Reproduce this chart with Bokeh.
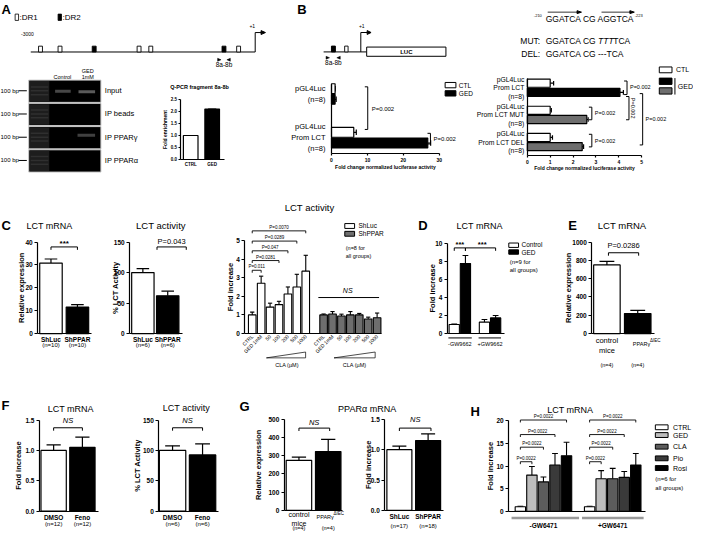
import math
from bokeh.plotting import figure
from bokeh.layouts import row, column
from bokeh.models import Range1d, FixedTicker, LinearAxis, Label, PrintfTickFormatter
from bokeh.core.properties import value
from bokeh.embed import file_html
from bokeh.resources import INLINE

FONT = "Liberation Sans"

# ------------------------------------------------------------------ data
qpcr_groups = ["CTRL", "GED"]
qpcr_values = [1.0, 2.1]
qpcr_ticks = [0.0, 0.5, 1.0, 1.5, 2.0, 2.5]

b1_groups = ["pGL4Luc\n(n=8)", "pGL4Luc\nProm LCT\n(n=8)"]
b1_ctl = [1.0, 6.2]
b1_ctl_err = [1.05, 6.9]
b1_ged = [1.0, 26.8]
b1_ged_err = [1.3, 27.6]
b1_ticks = [0, 10, 20, 30]

b2_groups = ["pGL4Luc\nProm LCT\n(n=8)", "pGL4Luc\nProm LCT MUT\n(n=8)", "pGL4Luc\nProm LCT DEL\n(n=8)"]
b2_ctl = [1.0, 1.0, 1.0]
b2_ctl_err = [1.15, 1.05, 1.1]
b2_ged = [4.05, 2.6, 2.4]
b2_ged_err = [4.2, 2.66, 2.46]
b2_ticks = [0, 1, 2, 3, 4, 5]

c1_groups = ["ShLuc", "ShPPAR"]
c1_n = ["(n=10)", "(n=10)"]
c1_values = [30.8, 11.6]
c1_err = [32.6, 12.6]
c1_ticks = [0, 10, 20, 30, 40]

c2_groups = ["ShLuc", "ShPPAR"]
c2_n = ["(n=6)", "(n=6)"]
c2_values = [100, 62]
c2_err = [106.5, 69.5]
c2_ticks = [0, 50, 100, 150]

c3_doses = ["CTRL", "GED 1mM", "50", "100", "200", "500", "1000"]
c3_shluc = [1.0, 2.7, 1.42, 1.55, 2.12, 2.5, 3.35]
c3_shluc_err = [1.15, 3.08, 1.63, 1.73, 2.5, 3.18, 4.2]
c3_shppar = [1.0, 1.05, 0.94, 1.0, 1.0, 0.78, 0.85]
c3_shppar_err = [1.05, 1.18, 1.04, 1.18, 1.08, 0.88, 1.1]
c3_pairs = [1, 3, 4, 5, 6]
c3_pvals = ["P=0.011", "P=0.0281", "P=0.047", "P=0.0289", "P=0.0070"]
c3_ticks = [0, 1, 2, 3, 4, 5]

d_groups = ["-GW9662", "+GW9662"]
d_control = [1.0, 1.26]
d_control_err = [1.05, 1.55]
d_ged = [7.73, 1.73]
d_ged_err = [8.63, 2.0]
d_ticks = [0, 2, 4, 6, 8, 10]

e_groups = ["control\nmice", "PPARγΔIEC"]
e_n = ["(n=4)", "(n=4)"]
e_values = [750, 218]
e_err = [789, 254]
e_ticks = [0, 200, 400, 600, 800, 1000]

f1_groups = ["DMSO", "Feno"]
f1_n = ["(n=12)", "(n=12)"]
f1_values = [1.0, 1.05]
f1_err = [1.09, 1.22]
f1_ticks = [0.0, 0.5, 1.0, 1.5]

f2_groups = ["DMSO", "Feno"]
f2_n = ["(n=6)", "(n=6)"]
f2_values = [100, 92.6]
f2_err = [107.5, 110.6]
f2_ticks = [0, 50, 100, 150]

g1_groups = ["control\nmice", "PPARγΔIEC"]
g1_n = ["(n=4)", "(n=4)"]
g1_values = [275, 323]
g1_err = [293, 390]
g1_ticks = [0, 100, 200, 300, 400, 500]

g2_groups = ["ShLuc", "ShPPAR"]
g2_n = ["(n=17)", "(n=18)"]
g2_values = [1.0, 1.15]
g2_err = [1.06, 1.26]
g2_ticks = [0.0, 0.5, 1.0, 1.5]

h_treat = ["CTRL", "GED", "CLA", "Pio", "Rosi"]
h_groups = ["-GW6471", "+GW6471"]
h_minus = [1.0, 8.0, 6.5, 10.25, 12.3]
h_minus_err = [1.1, 9.9, 7.6, 12.8, 15.3]
h_plus = [1.0, 7.2, 7.2, 7.5, 10.25]
h_plus_err = [1.1, 9.0, 9.5, 8.8, 12.8]
h_ticks = [0, 5, 10, 15, 20]

GRAY = "#6e6e6e"
H_COLORS = ["white", "#bdbdbd", "#5c5c5c", "#3a3a3a", "black"]

# ------------------------------------------------------------------ helpers
SX = 693 / 709
SY = 534 / 550


def PX(v):
    return int(round(v * SX))


def PY(v):
    return int(round(v * SY))


def base_fig(w, h, xr, yr, axes=True):
    kw = {}
    if not axes:
        kw = dict(x_axis_location=None, y_axis_location=None)
    p = figure(width=w, height=h, x_range=xr, y_range=yr, output_backend="svg",
               toolbar_location=None, min_border_left=0, min_border_bottom=0,
               min_border_top=0, min_border_right=0, **kw)
    p.outline_line_color = None
    p.grid.visible = False
    p.background_fill_color = "white"
    p.border_fill_color = "white"
    return p


def style_axis(ax, size, bold=True):
    ax.axis_line_color = "black"
    ax.axis_line_width = 1.2
    ax.major_tick_line_color = "black"
    ax.major_tick_line_width = 1.2
    ax.major_tick_out = 3
    ax.major_tick_in = 0
    ax.minor_tick_line_color = None
    ax.major_label_text_font = FONT
    ax.major_label_text_font_size = size
    ax.major_label_text_font_style = "bold" if bold else "normal"
    ax.major_label_text_color = "black"
    ax.major_label_standoff = 2


def ctext(p, x, y, t, size, style="normal", align="left", baseline="middle", angle=0.0):
    p.text(x=[x], y=[y], text=[t], text_font=value(FONT), text_font_size=value(size),
           text_font_style=value(style), text_align=value(align),
           text_baseline=value(baseline), angle=angle, text_color="black")


class Canvas:
    def __init__(self, box):
        x0, y0, x1, y1 = box
        self.p = base_fig(PX(x1) - PX(x0), PY(y1) - PY(y0), Range1d(x0, x1),
                          Range1d(y1, y0), axes=False)


class Chart:
    """A chart whose frame fills its box; axes sit at fixed data locations."""

    def __init__(self, box, fl, fb, xcal, ycal):
        x0, y0, x1, y1 = box
        self.xc, self.yc = xcal, ycal
        self.kx = (xcal[3] - xcal[1]) / (xcal[2] - xcal[0])
        self.ky = (ycal[3] - ycal[1]) / (ycal[2] - ycal[0])
        self.p = base_fig(PX(x1) - PX(x0), PY(y1) - PY(y0),
                          Range1d(self.dx(x0), self.dx(x1)),
                          Range1d(self.dy(y1), self.dy(y0)))
        self.p.xaxis[0].fixed_location = self.dy(fb)
        self.p.yaxis[0].fixed_location = self.dx(fl)

    def dx(self, rx):
        return self.xc[0] + (rx - self.xc[1]) / self.kx

    def dy(self, ry):
        return self.yc[0] + (ry - self.yc[1]) / self.ky

    def ry(self, d):
        return self.yc[1] + (d - self.yc[0]) * self.ky

    def label(self, rx, ry, text, size, style="normal", align="center", angle=0.0, xdata=None):
        x = xdata if xdata is not None else self.dx(rx)
        self.p.add_layout(Label(x=x, y=self.dy(ry), text=text, text_font=FONT,
                                text_font_size=size, text_font_style=style,
                                text_align=align, text_baseline="middle", angle=angle,
                                text_color="black"))

    def ylab(self, rx, ticks, text, size="7.5px"):
        ry = (self.ry(ticks[0]) + self.ry(ticks[-1])) / 2
        self.label(rx, ry, text, size, "bold", angle=math.pi / 2)

    def bracket(self, xd0, xd1, ry, tick=3, lw=1.0):
        y, yt = self.dy(ry), self.dy(ry + tick)
        self.p.line([xd0, xd0, xd1, xd1], [yt, y, y, yt], line_color="black", line_width=lw)

    def vbracket(self, rx, ry0, ry1, tick=3, lw=1.0):
        xs = [self.dx(rx - tick), self.dx(rx), self.dx(rx), self.dx(rx - tick)]
        ys = [self.dy(ry0), self.dy(ry0), self.dy(ry1), self.dy(ry1)]
        self.p.line(xs, ys, line_color="black", line_width=lw)

    def pline(self, pts, color="black", lw=1.0):
        self.p.line([self.dx(a) for a, _ in pts], [self.dy(b) for _, b in pts],
                    line_color=color, line_width=lw)

    def box(self, l, t, r, b, fill):
        self.p.quad(left=[self.dx(l)], right=[self.dx(r)], top=[self.dy(t)],
                    bottom=[self.dy(b)], fill_color=fill, line_color="black", line_width=1)

    def yaxis(self, ticks, size="6.5px", fmt=None):
        ax = self.p.yaxis[0]
        style_axis(ax, size)
        ax.ticker = FixedTicker(ticks=ticks)
        ax.bounds = (ticks[0], ticks[-1])
        if fmt:
            ax.formatter = PrintfTickFormatter(format=fmt)
        return ax

    def xcats(self, pos, labels, bounds, size="6.5px", bold=True, standoff=2, orient=None):
        ax = self.p.xaxis[0]
        style_axis(ax, size, bold)
        ax.ticker = FixedTicker(ticks=pos)
        ax.major_label_overrides = {k: v for k, v in zip(pos, labels)}
        ax.major_tick_out = 0
        ax.major_label_standoff = standoff
        ax.bounds = bounds
        if orient is not None:
            ax.major_label_orientation = orient
        return ax

    def xsecond(self, pos, labels, ry_top, size="6px"):
        ax = LinearAxis(ticker=FixedTicker(ticks=pos),
                        major_label_overrides={k: v for k, v in zip(pos, labels)},
                        fixed_location=self.dy(ry_top))
        style_axis(ax, size, bold=False)
        ax.axis_line_color = None
        ax.major_tick_line_color = None
        ax.major_tick_out = 0
        ax.major_label_standoff = 0
        self.p.add_layout(ax, "below")
        return ax


def vbars(ch, xs, vals, errs, fills, width, lw=1.2):
    p = ch.p
    c = width * 0.28
    p.segment(x0=xs, y0=vals, x1=xs, y1=errs, line_color="black", line_width=lw)
    p.segment(x0=[x - c for x in xs], y0=errs, x1=[x + c for x in xs], y1=errs,
              line_color="black", line_width=lw)
    p.vbar(x=xs, top=vals, bottom=0, width=width, fill_color=fills, line_color="black",
           line_width=lw)


def hbars(ch, ys, vals, errs, fill, height, lw=1.2):
    p = ch.p
    c = height * 0.28
    p.segment(x0=vals, y0=ys, x1=errs, y1=ys, line_color="black", line_width=lw)
    p.segment(x0=errs, y0=[y - c for y in ys], x1=errs, y1=[y + c for y in ys],
              line_color="black", line_width=lw)
    p.hbar(y=ys, right=vals, left=0, height=height, fill_color=fill, line_color="black",
           line_width=lw)


# ------------------------------------------------------------------ row 1: A
ca = Canvas((0, 0, 290, 70))
p = ca.p
ctext(p, 1, 9, "A", "13px", "bold")
p.quad(left=[15], right=[18.5], top=[14], bottom=[20.5], fill_color="white",
       line_color="black", line_width=0.8)
ctext(p, 19.5, 17.5, ":DR1", "8px")
p.quad(left=[59], right=[62.5], top=[14], bottom=[20.5], fill_color="black",
       line_color="black", line_width=0.8)
ctext(p, 63.5, 17.5, ":DR2", "8px")
ctext(p, 21, 34, "-3000", "5px")
p.line([31, 261, 261, 267.5], [53, 53, 33, 33], line_color="black", line_width=1)
p.patches([[267, 271.5, 267]], [[31, 33, 35]], fill_color="black", line_color="black")
ctext(p, 258, 26.5, "+1", "5px", align="center")
dr1 = [39, 59, 140, 152, 242]
dr2 = [94, 227]
p.quad(left=dr1, right=[x + 4 for x in dr1], top=[47] * 5, bottom=[53] * 5,
       fill_color="white", line_color="black", line_width=0.9)
p.quad(left=dr2, right=[x + 4 for x in dr2], top=[47] * 2, bottom=[53] * 2,
       fill_color="black", line_color="black", line_width=0.9)
p.patches([[222.5, 226, 222.5], [235.5, 232, 235.5]], [[59.5, 61, 62.5], [59.5, 61, 62.5]],
          fill_color="black", line_color="black", line_width=0.5)
ctext(p, 229, 65.5, "8a-8b", "6.5px", align="center")

cg = Canvas((0, 70, 160, 195))
p = cg.p
gel_rows = ["Input", "IP beads", "IP PPARγ", "IP PPARα"]
gel_tops = [82, 106, 130, 154]
p.quad(left=[29] * 4, right=[103] * 4, top=gel_tops, bottom=[t + 23 for t in gel_tops],
       fill_color="black", line_color="#c8c8c8", line_width=1)
p.quad(left=[30] * 4, right=[50] * 4, top=[t + 1 for t in gel_tops],
       bottom=[t + 22 for t in gel_tops], fill_color="#1d1d1d", line_color=None)
for t in gel_tops:
    p.segment(x0=[31, 31, 31], y0=[t + 7, t + 11, t + 15], x1=[49, 49, 49],
              y1=[t + 7, t + 11, t + 15], line_color="#2f2f2f", line_width=1.5)
    ctext(p, 0, t + 11, "100 bp", "6px")
    p.line([18.5, 27], [t + 11, t + 11], line_color="black", line_width=1)
for name, t in zip(gel_rows, gel_tops):
    ctext(p, 107, t + 11, name, "7.5px")
p.quad(left=[56, 80, 79], right=[72, 97, 97], top=[92, 92.5, 137.5], bottom=[95, 95.5, 140.5],
       fill_color=["#474747", "#5a5a5a", "#404040"], line_color=None)
ctext(p, 63.5, 79, "Control", "5.5px", align="center")
ctext(p, 89.5, 73, "GED", "5.5px", align="center")
ctext(p, 89.5, 79, "1mM", "5.5px", align="center")

q = Chart((160, 70, 290, 195), 185, 164, (0, 195, 1, 217), (0, 164, 2.5, 102))
vbars(q, [0, 1], qpcr_values, qpcr_values, ["white", "black"], 0.68)
q.yaxis(qpcr_ticks, size="4.5px", fmt="%.1f")
q.p.yaxis[0].major_tick_out = 2
q.ylab(169, qpcr_ticks, "Fold enrichment", size="5px")
q.xcats([0, 1], qpcr_groups, (q.dx(185), q.dx(230)), size="4.5px", standoff=3)
q.label(204, 89, "Q-PCR fragment 8a-8b", "5.5px", "bold")

# ------------------------------------------------------------------ row 1: B
cb = Canvas((290, 0, 709, 67))
p = cb.p
ctext(p, 304, 9, "B", "13px", "bold")
p.line([331, 375], [53, 53], line_color="black", line_width=1)
p.quad(left=[339], right=[343], top=[47], bottom=[53], fill_color="black", line_color="black")
p.quad(left=[352.5], right=[356], top=[47], bottom=[53], fill_color="white",
       line_color="black", line_width=0.9)
p.line([369, 369, 376], [53, 33, 33], line_color="black", line_width=1)
p.patches([[375.5, 379.5, 375.5]], [[31, 33, 35]], fill_color="black", line_color="black")
ctext(p, 370, 26.5, "+1", "5px", align="center")
p.quad(left=[375], right=[456], top=[48], bottom=[57.5], fill_color="white",
       line_color="black", line_width=1)
ctext(p, 415.5, 53, "LUC", "6px", "bold", align="center")
p.patches([[333.5, 337, 333.5], [348, 344.5, 348]], [[57.5, 59, 60.5], [57.5, 59, 60.5]],
          fill_color="black", line_color="black", line_width=0.5)
ctext(p, 341, 63.5, "8a-8b", "6.5px", align="center")
p.line([560, 591], [12, 12], line_color="black", line_width=0.8)
p.patches([[590, 594.5, 590]], [[10.5, 12, 13.5]], fill_color="black", line_color="black")
p.line([615, 645], [12, 12], line_color="black", line_width=0.8)
p.patches([[644, 648.5, 644]], [[10.5, 12, 13.5]], fill_color="black", line_color="black")
ctext(p, 554, 15, "-210", "4px", align="right")
ctext(p, 558, 19, "GGATCA CG AGGTCA", "8.5px")
ctext(p, 649, 15, "-223", "4px")
ctext(p, 532, 42, "MUT:", "8.5px")
ctext(p, 558, 42, "GGATCA CG", "8.5px")
ctext(p, 611.5, 42, "TTT", "8.5px", "italic")
ctext(p, 627, 42, "TCA", "8.5px")
ctext(p, 533, 55, "DEL:", "8.5px")
ctext(p, 558, 55, "GGATCA CG ---TCA", "8.5px")

b1 = Chart((290, 67, 486, 195), 339, 158, (0, 339, 30, 449), (0, 158, 1, 114))
b1_pos = [1.4, 0.375]
hbars(b1, [g + 0.125 for g in b1_pos], b1_ctl, b1_ctl_err, "white", 0.23)
hbars(b1, [g - 0.125 for g in b1_pos], b1_ged, b1_ged_err, "black", 0.23)
ax = b1.p.xaxis[0]
style_axis(ax, "5px")
ax.ticker = FixedTicker(ticks=b1_ticks)
ax.bounds = (0, 30)
ax.major_tick_out = 2
ay = b1.p.yaxis[0]
style_axis(ay, "7.5px", bold=False)
ay.ticker = FixedTicker(ticks=b1_pos)
ay.major_label_overrides = {k: v for k, v in zip(b1_pos, b1_groups)}
ay.major_tick_out = 0
ay.major_label_standoff = 6
ay.bounds = (0, b1.dy(87))
b1.label(394, 172, "Fold change normalized luciferase activity", "5px", "bold")
b1.vbracket(376, 89, 133)
b1.label(380, 112, "P=0.002", "6px", align="left")
b1.vbracket(440, 137, 148)
b1.label(443, 142.5, "P=0.002", "6px", align="left")
b1.box(455, 84.5, 466, 90, "white")
b1.box(455, 93, 466, 98.5, "black")
b1.label(469, 87.5, "CTL", "6.5px", align="left")
b1.label(469, 96, "GED", "6.5px", align="left")

b2 = Chart((486, 67, 709, 195), 539, 160, (0, 539, 5, 656), (0, 160, 1, 132))
b2_pos = [2.5, 1.5, 0.5]
hbars(b2, [g + 0.17 for g in b2_pos], b2_ctl, b2_ctl_err, "white", 0.3)
hbars(b2, [g - 0.17 for g in b2_pos], b2_ged, b2_ged_err, ["black", GRAY, GRAY], 0.3)
ax = b2.p.xaxis[0]
style_axis(ax, "5px")
ax.ticker = FixedTicker(ticks=b2_ticks)
ax.bounds = (0, 5)
ax.major_tick_out = 2
ay = b2.p.yaxis[0]
style_axis(ay, "6.8px", bold=False)
ay.ticker = FixedTicker(ticks=b2_pos)
ay.major_label_overrides = {k: v for k, v in zip(b2_pos, b2_groups)}
ay.major_tick_out = 0
ay.major_label_standoff = 3
ay.bounds = (0, b2.dy(80))
b2.label(597.5, 173, "Fold change normalized luciferase activity", "5px", "bold")
b2.vbracket(641, 83, 97)
b2.label(644, 89, "P=0.002", "5.5px", align="left")
b2.vbracket(643, 99, 123)
b2.label(647, 111, "P=0.002", "5.5px", angle=-math.pi / 2)
b2.vbracket(605, 110, 123)
b2.label(608, 116.5, "P=0.002", "5.5px", align="left")
b2.vbracket(605, 138, 151)
b2.label(608, 144.5, "P=0.002", "5.5px", align="left")
b2.vbracket(657, 96, 149)
b2.label(660, 122, "P=0.002", "5.5px", align="left")
b2.box(674, 68.5, 687, 74.5, "white")
b2.box(674, 80, 687, 86.5, "black")
b2.box(674, 90, 687, 96.5, GRAY)
b2.pline([(690, 80), (690, 97)], lw=1)
b2.label(691, 71.5, "CTL", "7px", align="left")
b2.label(693, 88.5, "GED", "7px", align="left")

# ------------------------------------------------------------------ row 2
c1 = Chart((0, 195, 100, 382), 38, 343, (0, 51.5, 1, 78.5), (0, 343, 40, 249))
vbars(c1, [0, 1], c1_values, c1_err, ["white", "black"], 0.85)
c1.yaxis(c1_ticks)
c1.ylab(21.5, c1_ticks, "Relative expression")
c1.xcats([0, 1], c1_groups, (c1.dx(38), c1.dx(93)))
c1.xsecond([0, 1], c1_n, 352)
c1.bracket(0, 1, 254)
c1.label(0, 250.5, "***", "8px", "bold", xdata=0.5)
c1.label(50, 232, "LCT mRNA", "9px")
c1.label(1, 232.5, "C", "13px", "bold", align="left")

c2 = Chart((100, 195, 220, 382), 132, 343, (0, 145.5, 1, 171), (0, 343, 150, 249))
vbars(c2, [0, 1], c2_values, c2_err, ["white", "black"], 0.9)
c2.yaxis(c2_ticks)
c2.ylab(117.5, c2_ticks, "% LCT Activity")
c2.xcats([0, 1], c2_groups, (c2.dx(132), c2.dx(186)))
c2.xsecond([0, 1], c2_n, 352)
c2.pline([(160, 257), (160, 254), (190, 254), (190, 257)])
c2.label(175, 248, "P=0.043", "7.5px")
c2.label(164, 232, "LCT activity", "9.5px")

c3 = Chart((220, 195, 415, 382), 250, 343, (0, 257.5, 14, 385), (0, 343, 5, 247.3))
c3_x1 = list(range(7))
c3_x2 = [8 + i for i in range(7)]
vbars(c3, c3_x1, c3_shluc, c3_shluc_err, "white", 0.85, lw=1.1)
vbars(c3, c3_x2, c3_shppar, c3_shppar_err, GRAY, 0.85, lw=1.1)
c3.yaxis(c3_ticks)
c3.ylab(235, c3_ticks, "Fold increase")
c3.xcats(c3_x1 + c3_x2, c3_doses + c3_doses, (c3.dx(250), c3.dx(389)), size="5px",
         bold=False, standoff=2, orient=math.pi / 4)
for k, ptxt, ry in zip(c3_pairs, c3_pvals, [278, 268, 258, 248, 237.5]):
    c3.bracket(0, k, ry, tick=2.5, lw=0.9)
    c3.label(0, ry - 3.5, ptxt, "4.5px", xdata=k / 2)
c3.pline([(325, 306), (387, 306)])
c3.label(355, 299, "NS", "7px", "italic")
c3.box(352, 230, 362, 235, "white")
c3.box(352, 238, 362, 243, GRAY)
c3.label(366, 232.5, "ShLuc", "6.5px", align="left")
c3.label(366, 240.5, "ShPPAR", "6.5px", align="left")
c3.label(353, 255, "(n=8 for", "5.5px", align="left")
c3.label(353, 263.5, "all groups)", "5.5px", align="left")
c3.label(316, 213, "LCT activity", "9.5px")
c3.pline([(272, 368), (312, 368), (312, 362), (272, 368)], lw=0.7)
c3.pline([(341, 368), (383, 368), (383, 362), (341, 368)], lw=0.7)
c3.label(293, 375, "CLA (µM)", "5.5px")
c3.label(362, 375, "CLA (µM)", "5.5px")

d = Chart((415, 195, 570, 382), 457, 343, (0, 469.75, 1, 500.75), (0, 343, 10, 250))
d_pos = [0, 1]
vbars(d, [g - 0.185 for g in d_pos], d_control, d_control_err, "white", 0.34, lw=1.1)
vbars(d, [g + 0.185 for g in d_pos], d_ged, d_ged_err, "black", 0.34, lw=1.1)
d.yaxis(d_ticks)
d.ylab(441.5, d_ticks, "Fold increase")
d.xcats(d_pos, d_groups, (d.dx(457), d.dx(516)), size="5.5px", bold=False, standoff=7)
d.pline([(458, 347.5), (482, 347.5)])
d.pline([(489, 347.5), (512, 347.5)])
d.bracket(-0.185, 0.185, 255)
d.bracket(0.185, 1.185, 255)
d.label(0, 251.5, "***", "7.5px", "bold", xdata=0)
d.label(0, 251.5, "***", "7.5px", "bold", xdata=0.74)
d.box(520, 250, 530, 254.5, "white")
d.box(520, 257, 530, 261.5, "black")
d.label(533, 252, "Control", "6.5px", align="left")
d.label(533, 259.5, "GED", "6.5px", align="left")
d.label(521, 270, "(n=9 for", "6px", align="left")
d.label(521, 278, "all groups)", "6px", align="left")
d.label(490, 232, "LCT mRNA", "9px")
d.label(427, 232.5, "D", "13px", "bold", align="left")

e = Chart((570, 195, 709, 382), 605, 343, (0, 620.5, 1, 652), (0, 343, 1000, 249))
vbars(e, [0, 1], e_values, e_err, ["white", "black"], 0.86)
e.yaxis(e_ticks)
e.ylab(581.5, e_ticks, "Relative expression")
e.xcats([0, 1], [e_groups[0], ""], (e.dx(605), e.dx(669)), size="7.5px", bold=False,
        standoff=2)
e.xsecond([0, 1], e_n, 372, size="5.5px")
e.label(647, 354, "PPARγ", "5.5px", align="left")
e.label(664.5, 350.5, "ΔIEC", "4.5px", align="left")
e.bracket(0.05, 1.03, 260)
e.label(637.5, 253, "P=0.0286", "7.5px")
e.label(636, 232, "LCT mRNA", "9.5px")
e.label(581, 232.5, "E", "13px", "bold", align="left")

# ------------------------------------------------------------------ row 3
f1 = Chart((0, 382, 120, 550), 40, 526, (0, 54.5, 1, 84), (0, 526, 1.5, 432))
vbars(f1, [0, 1], f1_values, f1_err, ["white", "black"], 0.88)
f1.yaxis(f1_ticks, fmt="%.1f")
f1.ylab(18.5, f1_ticks, "Fold increase")
f1.xcats([0, 1], f1_groups, (f1.dx(40), f1.dx(100)), standoff=3)
f1.xsecond([0, 1], f1_n, 536.5)
f1.bracket(0, 1, 440)
f1.label(0, 433, "NS", "7.5px", "italic", xdata=0.5)
f1.label(72, 421, "LCT mRNA", "9px")
f1.label(1, 417.5, "F", "13px", "bold", align="left")

f2 = Chart((120, 382, 240, 550), 162, 526, (0, 176, 1, 206.5), (0, 526, 150, 432))
vbars(f2, [0, 1], f2_values, f2_err, ["white", "black"], 0.88)
f2.yaxis(f2_ticks)
f2.ylab(140, f2_ticks, "% LCT Activity")
f2.xcats([0, 1], f2_groups, (f2.dx(162), f2.dx(223)), standoff=3)
f2.xsecond([0, 1], f2_n, 536.5)
f2.bracket(0, 1, 440)
f2.label(0, 433, "NS", "7.5px", "italic", xdata=0.5)
f2.label(190, 420, "LCT activity", "9px")

cgt = Canvas((240, 382, 480, 428))
ctext(cgt.p, 244, 417.5, "G", "13px", "bold")
ctext(cgt.p, 375, 420, "PPARα mRNA", "9px", align="center")

g1 = Chart((240, 428, 365, 550), 290, 525, (0, 305, 1, 335), (0, 525, 500, 431))
vbars(g1, [0, 1], g1_values, g1_err, ["white", "black"], 0.87)
g1.yaxis(g1_ticks)
g1.ylab(264, g1_ticks, "Relative expression")
g1.xcats([0, 1], [g1_groups[0], ""], (g1.dx(290), g1.dx(350)), size="7px", bold=False,
         standoff=1)
g1.xsecond([0, 1], g1_n, 540, size="5.5px")
g1.label(323, 532, "PPARγ", "5.5px", align="left")
g1.label(340.5, 528.5, "ΔIEC", "4.5px", align="left")
g1.bracket(0, 1.05, 440)
g1.label(0, 434, "NS", "7.5px", "italic", xdata=0.52)

g2 = Chart((365, 428, 480, 550), 393, 525, (0, 408, 1, 437.5), (0, 525, 1.5, 431))
vbars(g2, [0, 1], g2_values, g2_err, ["white", "black"], 0.87)
g2.yaxis(g2_ticks, fmt="%.1f")
g2.ylab(376, g2_ticks, "Fold increase")
g2.xcats([0, 1], g2_groups, (g2.dx(393), g2.dx(453)), standoff=3)
g2.xsecond([0, 1], g2_n, 538)
g2.bracket(0, 1.1, 440)
g2.label(0, 431, "NS", "7.5px", "italic", xdata=0.55)

h = Chart((480, 382, 709, 550), 520, 526, (0, 532, 1, 543.8), (0, 526, 20, 433))
h_x1 = list(range(5))
h_x2 = [6 + i for i in range(5)]
vbars(h, h_x1, h_minus, h_minus_err, H_COLORS, 0.9, lw=1.1)
vbars(h, h_x2, h_plus, h_plus_err, H_COLORS, 0.9, lw=1.1)
h.yaxis(h_ticks)
h.ylab(501.5, h_ticks, "Fold increase")
h.xcats([2, 8], h_groups, (h.dx(520), h.dx(660)), size="6.5px", standoff=11)
h.pline([(523, 533), (592, 533)], color="#9a9a9a", lw=2.5)
h.pline([(595, 533), (658, 533)], color="#9a9a9a", lw=2.5)
for base in (0, 6):
    for k, ry in zip([1, 2, 3, 4], [475, 460, 447, 432]):
        h.bracket(base, base + k, ry, tick=2.5, lw=0.9)
        h.label(0, ry - 3.5, "P=0.0022", "4.5px", xdata=base + k / 2)
for name, col, ry in zip(h_treat, H_COLORS, [439.5, 447.5, 459.5, 471.5, 481.5]):
    h.box(670, ry - 2.5, 683, ry + 2.5, col)
    h.label(688, ry, name, "7px", align="left")
h.label(670, 493, "(n=6 for", "6px", align="left")
h.label(670, 502, "all groups)", "6px", align="left")
h.label(583, 422, "LCT mRNA", "9px")
h.label(481, 423, "H", "13px", "bold", align="left")

# ------------------------------------------------------------------ layout
row1 = row(column(ca.p, row(cg.p, q.p)), column(cb.p, row(b1.p, b2.p)))
row2 = row(c1.p, c2.p, c3.p, d.p, e.p)
row3 = row(f1.p, f2.p, column(cgt.p, row(g1.p, g2.p)), h.p)
layout = column(row1, row2, row3)

open("out.html", "w").write(file_html(layout, INLINE))
